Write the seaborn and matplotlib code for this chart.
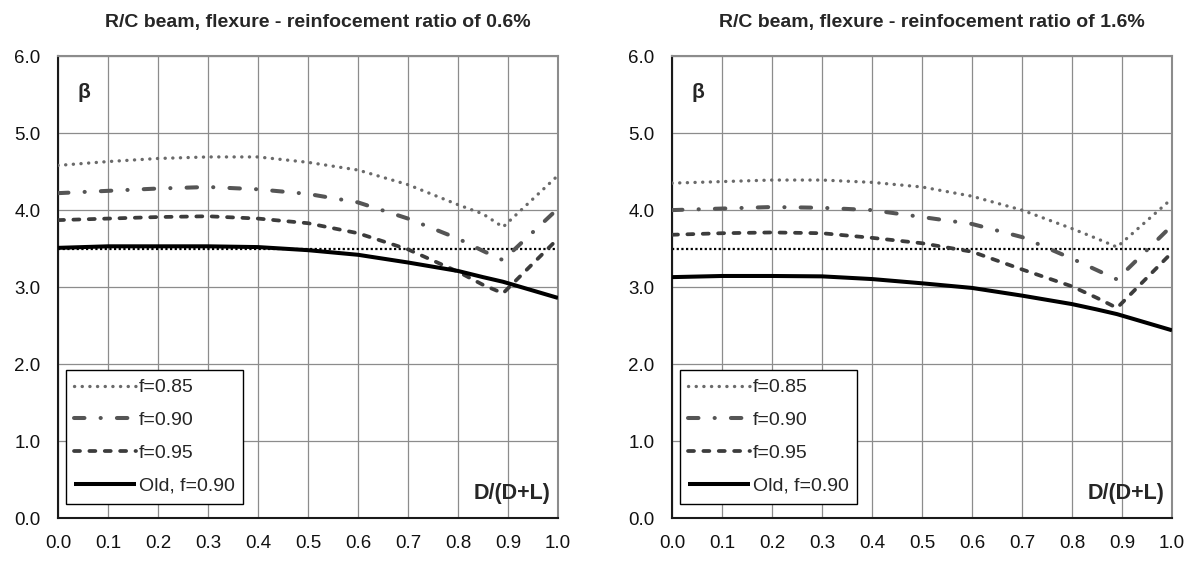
import numpy as np
import pandas as pd
import seaborn as sns
import matplotlib
matplotlib.use("Agg")
import matplotlib.pyplot as plt
from matplotlib.ticker import FormatStrFormatter, MultipleLocator

# D/(D+L) ratio at which beta was evaluated
ratio = [0.0, 0.1, 0.2, 0.3, 0.4, 0.5, 0.6, 0.7, 0.8, 0.85, 0.89, 1.0]

# Reinforcement ratio 0.6 %
beta_06_f085 = [4.58, 4.63, 4.67, 4.69, 4.69, 4.62, 4.52, 4.33, 4.07, 3.95, 3.78, 4.45]
beta_06_f090 = [4.22, 4.25, 4.28, 4.30, 4.27, 4.21, 4.10, 3.89, 3.63, 3.47, 3.35, 4.02]
beta_06_f095 = [3.87, 3.89, 3.91, 3.92, 3.89, 3.83, 3.70, 3.49, 3.20, 3.03, 2.92, 3.63]
beta_06_old = [3.51, 3.53, 3.53, 3.53, 3.52, 3.48, 3.42, 3.32, 3.21, 3.13, 3.07, 2.86]

# Reinforcement ratio 1.6 %
beta_16_f085 = [4.35, 4.37, 4.39, 4.39, 4.36, 4.30, 4.18, 4.00, 3.76, 3.63, 3.52, 4.15]
beta_16_f090 = [4.00, 4.02, 4.04, 4.03, 4.00, 3.91, 3.82, 3.65, 3.37, 3.22, 3.10, 3.80]
beta_16_f095 = [3.68, 3.70, 3.71, 3.70, 3.64, 3.57, 3.46, 3.23, 3.01, 2.86, 2.73, 3.45]
beta_16_old = [3.13, 3.145, 3.145, 3.14, 3.105, 3.05, 2.99, 2.89, 2.78, 2.71, 2.65, 2.44]

# Target reliability index
target_ratio = [0.0, 1.0]
target_beta = [3.5, 3.5]

series_labels = ["f=0.85", "f=0.90", "f=0.95", "Old, f=0.90"]
panel_titles = [
    "R/C beam, flexure - reinfocement ratio of 0.6%",
    "R/C beam, flexure - reinfocement ratio of 1.6%",
]
panel_data = [
    [beta_06_f085, beta_06_f090, beta_06_f095, beta_06_old],
    [beta_16_f085, beta_16_f090, beta_16_f095, beta_16_old],
]

# line appearance per series
line_style = {
    "f=0.85": dict(color="#6a6a6a", lw=2.4, ls=(0, (0.05, 2.25)), cap="round"),
    "f=0.90": dict(color="#555555", lw=2.9, ls=(0, (2.6, 4.0, 0.05, 4.0)), cap="round"),
    "f=0.95": dict(color="#3c3c3c", lw=2.7, ls=(0, (1.6, 2.5)), cap="round"),
    "Old, f=0.90": dict(color="#000000", lw=2.9, ls="-", cap="round"),
}

sns.set_theme(style="white")
plt.rcParams["font.family"] = ["Liberation Sans", "DejaVu Sans"]

W, H = 1197, 561
fig = plt.figure(figsize=(W / 100, H / 100), dpi=100)

ax_left_px = [58, 672]
ax_w_px = 500
ax_top_px, ax_bot_px = 56, 518.3

for i, x0 in enumerate(ax_left_px):
    ax = fig.add_axes([x0 / W, (H - ax_bot_px) / H, ax_w_px / W,
                       (ax_bot_px - ax_top_px) / H])

    # target line
    sns.lineplot(x=target_ratio, y=target_beta, ax=ax, color="black",
                 linewidth=1.6, linestyle=(0, (1, 1.1)), zorder=2)

    handles = []
    for lab, vals in zip(series_labels, panel_data[i]):
        st = line_style[lab]
        sns.lineplot(x=ratio, y=vals, ax=ax, color=st["color"],
                     linewidth=st["lw"], linestyle=st["ls"],
                     dash_capstyle=st["cap"], solid_capstyle="butt",
                     zorder=3, label=lab)
        handles.append(ax.lines[-1])

    ax.set_xlim(0, 1)
    ax.set_ylim(0, 6)
    ax.xaxis.set_major_locator(MultipleLocator(0.1))
    ax.yaxis.set_major_locator(MultipleLocator(1.0))
    ax.xaxis.set_major_formatter(FormatStrFormatter("%.1f"))
    ax.yaxis.set_major_formatter(FormatStrFormatter("%.1f"))
    ax.set_xlabel("")
    ax.set_ylabel("")
    ax.tick_params(axis="x", length=0, pad=12, labelsize=13.5, colors="#111111")
    ax.tick_params(axis="y", length=0, pad=12.5, labelsize=13.5, colors="#111111")
    ax.grid(True, color="#8c8c8c", linewidth=0.9)
    ax.set_axisbelow(True)
    for side in ["left", "bottom"]:
        ax.spines[side].set_color("#1a1a1a")
        ax.spines[side].set_linewidth(1.5)
    for side in ["top", "right"]:
        ax.spines[side].set_color("#8c8c8c")
        ax.spines[side].set_linewidth(1.5)

    leg = ax.legend(handles=handles, labels=series_labels, loc="lower left",
                    bbox_to_anchor=(0.015, 0.032), borderaxespad=0,
                    fontsize=14, frameon=True, fancybox=False,
                    edgecolor="black", framealpha=1, handlelength=3.2,
                    handletextpad=0.12, labelspacing=0.78, borderpad=0.45)
    leg.get_frame().set_linewidth(1.0)

    ax.text(0.052, 5.52, "\u03b2", fontsize=15, fontweight="bold",
            ha="center", va="center")
    ax.text(0.985, 0.32, "D/(D+L)", fontsize=15.5, fontweight="bold",
            ha="right", va="center")
    ax.text(0.5 + 10 / ax_w_px, 1 + 34 / (ax_bot_px - ax_top_px),
            panel_titles[i], transform=ax.transAxes, fontsize=14,
            fontweight="bold", ha="center", va="center")

fig.savefig("out.png", dpi=100)
